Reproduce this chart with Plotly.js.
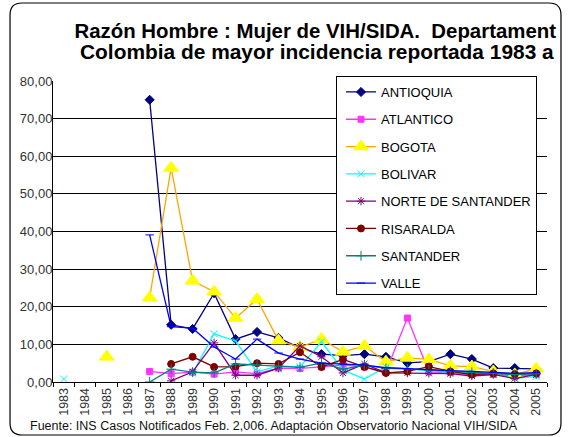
<!DOCTYPE html>
<html><head><meta charset="utf-8">
<script src="https://cdn.plot.ly/plotly-3.0.1.min.js"></script>
<style>html,body{margin:0;padding:0;background:#fff}</style>
</head><body><div id="chart" style="width:572px;height:437px"></div>
<script>
const years = ["1983","1984","1985","1986","1987","1988","1989","1990","1991","1992","1993","1994","1995","1996","1997","1998","1999","2000","2001","2002","2003","2004","2005"];
const antioquia = [null,null,null,null,75.0,15.2,14.1,23.6,11.4,13.3,11.7,9.0,7.4,7.0,7.4,6.7,5.1,5.4,7.4,6.1,3.7,3.7,3.5];
const atlantico = [null,null,null,null,2.8,2.2,2.6,2.1,2.7,2.2,3.7,3.6,4.0,4.5,4.0,2.7,17.0,2.7,2.5,2.0,2.0,1.5,2.0];
const bogota = [null,null,6.7,null,22.4,56.9,26.9,24.0,17.0,22.0,11.0,9.3,11.4,8.0,9.6,5.4,6.4,6.0,4.3,4.1,2.8,2.0,3.5];
const bolivar = [0.8,null,null,null,null,null,2.4,12.8,10.9,2.7,4.3,4.0,10.7,3.2,0.8,4.0,3.5,3.0,2.5,2.5,2.0,1.0,1.5];
const norte = [null,null,null,null,null,0.3,2.7,10.4,1.8,1.8,3.7,9.6,6.7,2.4,4.8,2.4,2.4,2.3,2.2,1.6,2.0,0.9,2.0];
const risaralda = [null,null,null,null,null,4.8,6.7,4.0,4.1,5.0,4.8,7.9,4.0,6.0,4.0,2.4,2.8,4.1,2.8,2.0,2.3,2.1,2.3];
const santander = [null,null,null,null,0.0,3.4,2.6,2.4,4.8,4.5,4.2,3.9,5.1,3.4,4.5,3.6,3.5,3.2,2.8,2.6,2.4,2.0,2.2];
const valle = [null,null,null,null,39.1,14.7,14.3,9.3,6.1,11.4,7.7,6.1,5.0,4.8,4.5,3.8,3.5,3.3,3.0,2.8,2.5,2.3,2.5];
const yTicks = [0,10,20,30,40,50,60,70,80];
const yTickText = ["0,00","10,00","20,00","30,00","40,00","50,00","60,00","70,00","80,00"];

function tr(name, y, lineColor, sym, mColor, mSize, g) {
  return {type:'scatter', mode:'lines+markers', name:name, x:years, y:y,
    connectgaps:false, legendgroup:g,
    line:{color:lineColor, width:1.3},
    marker:{symbol:sym, color:mColor, size:mSize, line:{color:mColor, width:1}}};
}
const data = [
  tr('ANTIOQUIA', antioquia, '#000080', 'diamond', '#000080', 7, 'a'),
  tr('ATLANTICO', atlantico, '#FF33FF', 'square', '#FF33FF', 6, 'b'),
  tr('BOGOTA', bogota, '#FFA500', 'triangle-up', '#FFFF00', 13, 'c'),
  tr('BOLIVAR', bolivar, '#00FFFF', 'x-thin', '#00FFFF', 7, 'd'),
  tr('NORTE DE SANTANDER', norte, '#800080', 'asterisk', '#800080', 7, 'e'),
  tr('RISARALDA', risaralda, '#800000', 'circle', '#800000', 7, 'f'),
  tr('SANTANDER', santander, '#008080', 'cross-thin', '#008080', 7, 'g'),
  tr('VALLE', valle, '#0000FF', 'line-ew', '#0000FF', 6, 'h')
];

const L=53, R=547, T=81, B=382, W=R-L, H=B-T;
const px = v => ((v-L)/W).toFixed(4);
const py = v => ((B-v)/H).toFixed(4);
const bl=10, br=561, bt=3, bb=435, r=12;
const path = `M ${px(bl+r)},${py(bt)} L ${px(br-r)},${py(bt)} Q ${px(br)},${py(bt)} ${px(br)},${py(bt+r)} L ${px(br)},${py(bb-r)} Q ${px(br)},${py(bb)} ${px(br-r)},${py(bb)} L ${px(bl+r)},${py(bb)} Q ${px(bl)},${py(bb)} ${px(bl)},${py(bb-r)} L ${px(bl)},${py(bt+r)} Q ${px(bl)},${py(bt)} ${px(bl+r)},${py(bt)} Z`;

const layout = {
  width:572, height:437,
  margin:{l:L, r:572-R, t:T, b:437-B, pad:0},
  paper_bgcolor:'#fff', plot_bgcolor:'#fff',
  font:{family:'Liberation Sans, Arial, sans-serif', color:'#222', size:12},
  title:{text:'Razón Hombre : Mujer de VIH/SIDA.  Departament',
    x:556/572, xref:'container', xanchor:'right', y:1-38/437, yanchor:'bottom', pad:{t:0,b:0,l:0,r:0},
    font:{family:'Liberation Sans, Arial, sans-serif', size:20.4, color:'#000', weight:'bold'}},
  xaxis:{type:'category', showgrid:false, showline:true, linecolor:'#000', linewidth:1,
    ticks:'outside', tickson:'boundaries', ticklen:4, tickcolor:'#000',
    tickangle:-90, tickfont:{size:12.5, color:'#333'}, range:[-0.5,22.5], fixedrange:true},
  yaxis:{range:[0,80], tickvals:yTicks, ticktext:yTickText, showgrid:true, gridcolor:'#000', gridwidth:1,
    showline:true, linecolor:'#000', linewidth:1, ticks:'', ticklabelstandoff:-3,
    tickfont:{size:13, color:'#333'}, zeroline:false},
  showlegend:true,
  legend:{x:(336-L)/W, xanchor:'left', y:(B-76)/H, yanchor:'top', bgcolor:'#fff', bordercolor:'#000', borderwidth:1,
    font:{size:13, color:'#000'}, traceorder:'grouped', tracegroupgap:7.4, itemwidth:30, indentation:4},
  shapes:[{type:'path', xref:'paper', yref:'paper', path:path, line:{color:'#000', width:1.2}, fillcolor:'rgba(0,0,0,0)'}],
  annotations:[
    {text:'Colombia de mayor incidencia reportada 1983 a', xref:'paper', yref:'paper',
     x:(556-L)/W, xanchor:'right', y:(B-65)/H, yanchor:'bottom', showarrow:false,
     font:{family:'Liberation Sans, Arial, sans-serif', size:20.9, color:'#000', weight:'bold'}},
    {text:'Fuente: INS Casos Notificados Feb. 2,006. Adaptación Observatorio Nacional VIH/SIDA',
    xref:'paper', yref:'paper', x:(28-L)/W, xanchor:'left', y:(B-426)/H, yanchor:'middle', showarrow:false,
    font:{size:12.5, color:'#111'}}]
};
Plotly.newPlot('chart', data, layout, {displayModeBar:false, staticPlot:true});
</script></body></html>
